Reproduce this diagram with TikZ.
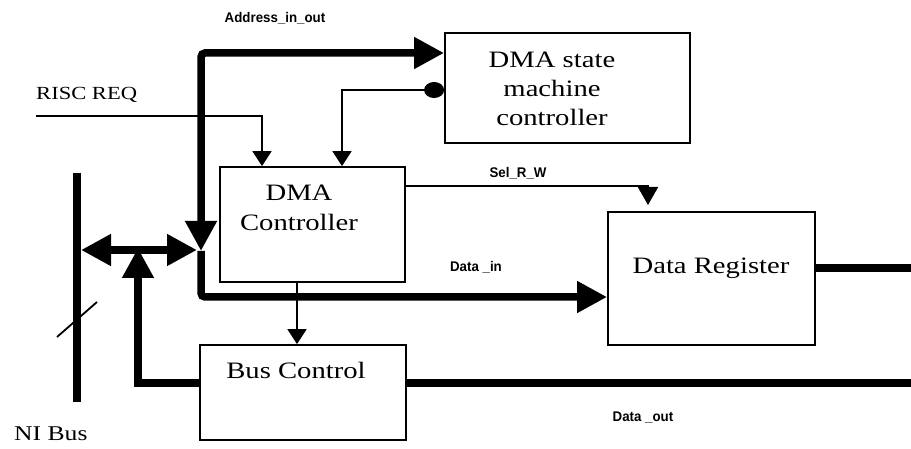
\documentclass[tikz,border=0pt]{standalone}
\usepackage{fontspec}
\setmainfont[FakeStretch=1.22]{Liberation Serif}
\newfontfamily\labfont[FakeStretch=0.95]{Liberation Sans}
\usetikzlibrary{arrows.meta}

\tikzset{
  blk/.style={draw, line width=1.8pt, rectangle, inner sep=0pt},
  big/.style={font=\fontsize{23.5}{29}\selectfont, align=center, inner sep=0pt},
  sig/.style={font=\labfont\bfseries\fontsize{14}{16}\selectfont, inner sep=0pt},
  thin/.style={line width=1.8pt},
  bus/.style={line width=7.5pt},
  thinarrow/.style={thin, -{Triangle[length=15pt,width=19pt]}},
  busarrow/.style={bus, -{Triangle[length=30pt,width=30pt]}},
}

\begin{document}
\begin{tikzpicture}[x=1pt, y=-1pt]
  \useasboundingbox (0,0) rectangle (911,449);

  % blocks
  \node[blk, minimum width=245pt, minimum height=110pt] (fsm)  at (567.5,88)  {};
  \node[blk, minimum width=185pt, minimum height=115pt] (dmac) at (312.5,224.5) {};
  \node[blk, minimum width=207pt, minimum height=133pt] (dreg) at (711.5,278.5) {};
  \node[blk, minimum width=206pt, minimum height=95pt]  (busc) at (303,392.5) {};

  % block titles
  \node[big] (fsmtxt)  at (552,89)  {DMA state\\machine\\controller};
  \node[big] (dmactxt) at (299,208) {DMA\\[1pt]Controller};
  \node[big] (dregtxt) at (711,268) {Data Register};
  \node[big] (busctxt) at (296,370) {Bus Control};

  % free labels
  \node[big, font=\fontsize{18.5}{22}\selectfont, anchor=west] (risc) at (36,95) {RISC REQ};
  \node[big, font=\fontsize{21}{25}\selectfont, anchor=west] (nibus) at (14,434) {NI Bus};
  \node[sig] (addrlab) at (275,18)  {Address\_in\_out};
  \node[sig] (sellab)  at (518,173) {Sel\_R\_W};
  \node[sig] (dinlab)  at (476,267) {Data \_in};
  \node[sig] (doutlab) at (643,418) {Data \_out};

  % NI bus and its bus-width slash
  \coordinate (nitop) at (77,173);
  \coordinate (nibot) at (77,402);
  \draw[bus, line width=8pt] (nitop) -- (nibot);
  \coordinate (sl1) at (57,337);
  \coordinate (sl2) at (97,302);
  \draw[thin] (sl1) -- (sl2);

  % junction of the address and data buses
  \coordinate (jn) at (201,251);
  \coordinate (jnup) at (201,222);
  \coordinate (nibus-j) at (81,250);
  \coordinate (busjoin) at (138,250);

  % address bus to the state machine
  \draw[busarrow, rounded corners=4pt] (jnup) |- (fsm.west |- 0,53);
  \draw[busarrow] (jnup) -- (jn);
  % data-in bus to the data register
  \draw[busarrow, rounded corners=4pt] (jn) |- (dreg.west |- 0,297);
  % bidirectional link between NI bus and junction
  \draw[bus, {Triangle[length=30pt,width=30pt]}-{Triangle[length=30pt,width=30pt]}] (nibus-j) -- (197,250);

  % bus control back to the NI bus
  \draw[busarrow] (busc.west |- 0,383) -| ([yshift=2pt]busjoin);
  % outgoing buses on the right
  \coordinate (dregout) at (911,268);
  \coordinate (buscout) at (911,383);
  \draw[bus] (dreg.east |- dregout) -- (dregout);
  \draw[bus] (busc.east |- buscout) -- (buscout);

  % RISC request
  \coordinate (riscin) at (36,116);
  \draw[thinarrow] (riscin) -| (dmac.north -| 262,0);
  % state machine handshake
  \coordinate (hs) at (342,90);
  \draw[thin, {Circle[length=20pt,width=16pt]}-{Triangle[length=15pt,width=19pt]}]
    (fsm.west |- hs) -| (dmac.north -| hs);
  % select read/write
  \draw[thin, -{Triangle[length=18pt,width=20pt]}] (dmac.east |- 0,186) -| (648,205);
  % controller to bus control
  \draw[thinarrow] (dmac.south -| 297,0) -- (busc.north -| 297,0);
\end{tikzpicture}
\end{document}
